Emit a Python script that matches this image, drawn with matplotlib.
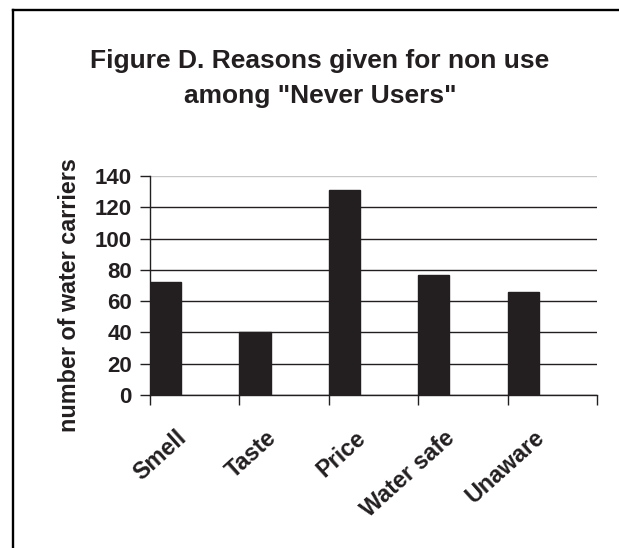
import matplotlib
matplotlib.use("Agg")
import matplotlib.pyplot as plt
from matplotlib.lines import Line2D
from matplotlib.transforms import ScaledTranslation

plt.rcParams['font.family'] = ['Liberation Sans', 'DejaVu Sans']
plt.rcParams['font.weight'] = 'bold'

# Survey data
reasons = ["Smell", "Taste", "Price", "Water safe", "Unaware"]
carriers = [72, 40, 131, 77, 66]
y_ticks = [0, 20, 40, 60, 80, 100, 120, 140]

ink = "#231f20"
W, H = 619, 548
fig = plt.figure(figsize=(W / 100, H / 100), dpi=100)
fig.patch.set_facecolor("white")

# Outer chart frame: only the top and left edges fall inside the image
fx, fy = 12.5 / W, 1 - 9.5 / H
fig.add_artist(Line2D([fx, 1.0], [fy, fy], transform=fig.transFigure,
                      color="black", linewidth=1.7))
fig.add_artist(Line2D([fx, fx], [0.0, fy], transform=fig.transFigure,
                      color="black", linewidth=1.7))

ax = fig.add_axes([150 / W, 1 - 395 / H, 447 / W, 219 / H])
positions = list(range(len(reasons)))
ax.bar(positions, carriers, width=0.35, align="edge", color=ink,
       edgecolor=ink, zorder=3)

ax.set_xlim(0, len(reasons))
ax.set_ylim(y_ticks[0], y_ticks[-1])
ax.set_yticks(y_ticks)
ax.set_xticks(range(len(reasons) + 1))
ax.set_xticklabels([])
ax.tick_params(axis="both", direction="out", length=7, width=1, color=ink)
ax.tick_params(axis="y", labelsize=16, labelcolor=ink, pad=6)

ax.grid(axis="y", color=ink, linewidth=1, zorder=1)
ax.get_ygridlines()[-1].set_color("#c8c8c8")
ax.set_axisbelow(True)
for side in ("right", "top"):
    ax.spines[side].set_visible(False)
for side in ("left", "bottom"):
    ax.spines[side].set_color(ink)
    ax.spines[side].set_linewidth(1)

# Category labels, slanted and right-aligned under each category
off = ScaledTranslation(-19 / 100, -31 / 100, fig.dpi_scale_trans)
for i, name in enumerate(reasons):
    ax.text(i + 0.5, 0, name, transform=ax.get_xaxis_transform() + off,
            rotation=42, rotation_mode="anchor", ha="right", va="top",
            fontsize=16.8, color=ink, fontweight="bold")

fig.text(70 / W, 1 - 295 / H, "number of water carriers", rotation=90,
         ha="center", va="center", fontsize=16.8, color=ink,
         fontweight="bold")

fig.text(320 / W, 1 - 49 / H,
         "Figure D. Reasons given for non use\namong \"Never Users\"",
         ha="center", va="top", fontsize=19, color=ink, fontweight="bold",
         linespacing=1.6)

fig.savefig("out.png", dpi=100, facecolor="white")
